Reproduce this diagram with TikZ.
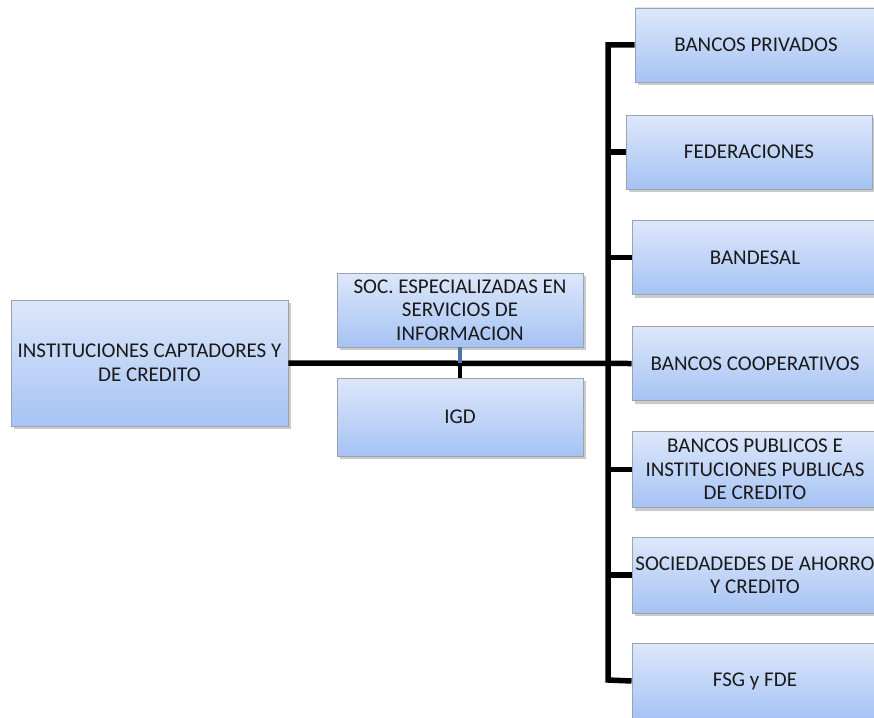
\documentclass[tikz,border=0pt]{standalone}
\usepackage{fontspec}
\setmainfont{Carlito}
\usetikzlibrary{shadows}
\definecolor{boxtop}{HTML}{DDE7FA}
\definecolor{boxbot}{HTML}{A6C3F4}
\definecolor{boxline}{HTML}{9AA3AE}
\definecolor{socblue}{HTML}{4A76A8}
\tikzset{
  orgbox/.style={draw=boxline, line width=0.9pt, top color=boxtop, bottom color=boxbot,
    drop shadow={shadow xshift=2.5pt, shadow yshift=-3pt, fill=black!45, opacity=0.45},
    align=center, inner sep=0pt, font=\fontsize{21}{23.5}\selectfont, text=black!90},
  conn/.style={line width=5.5pt, black},
}
\begin{document}
\begin{tikzpicture}[x=1pt, y=-1pt]
\useasboundingbox (0,0) rectangle (874,717);
\clip (0,0) rectangle (874,717);
% boxes
\node[orgbox, minimum width=277pt, minimum height=126pt] (inst) at (149.5,363) {INSTITUCIONES CAPTADORES Y\\DE CREDITO};
\node[orgbox, minimum width=246pt, minimum height=74pt] (soc) at (460,310) {SOC. ESPECIALIZADAS EN\\SERVICIOS DE\\INFORMACION};
\node[orgbox, minimum width=246pt, minimum height=78pt] (igd) at (460,417) {IGD};
\node[orgbox, minimum width=242pt, minimum height=74pt] (bp) at (756,45) {BANCOS PRIVADOS};
\node[orgbox, minimum width=246pt, minimum height=74pt] (fed) at (749,152) {FEDERACIONES};
\node[orgbox, minimum width=246pt, minimum height=74pt] (ban) at (755,257.5) {BANDESAL};
\node[orgbox, minimum width=246pt, minimum height=74pt] (bc) at (755,363.5) {BANCOS COOPERATIVOS};
\node[orgbox, minimum width=246pt, minimum height=76pt] (bpub) at (755,469.5) {BANCOS PUBLICOS E\\INSTITUCIONES PUBLICAS\\DE CREDITO};
\node[orgbox, minimum width=246pt, minimum height=76pt] (sac) at (755,575) {SOCIEDADEDES DE AHORRO\\Y CREDITO};
\node[orgbox, minimum width=246pt, minimum height=76pt] (fsg) at (755,681) {FSG y FDE};
% connectors
\coordinate (ttop) at (608,45);
\coordinate (tbot) at (608,680);
\draw[conn] (bp.west) -- (ttop) -- (tbot) -- (fsg.west);
\draw[conn] (fed.west) -- (fed.west -| ttop);
\draw[conn] (ban.west) -- (ban.west -| ttop);
\draw[conn] (bpub.west) -- (bpub.west -| ttop);
\draw[conn] (sac.west) -- (sac.west -| ttop);
\draw[conn] (inst.east) -- (bc.west);
\coordinate (mid) at (soc.south |- inst.east);
\draw[line width=4pt, socblue] (soc.south) -- ([yshift=-3pt]mid);
\draw[line width=4.5pt, black] (mid) -- (igd.north);
\end{tikzpicture}
\end{document}
